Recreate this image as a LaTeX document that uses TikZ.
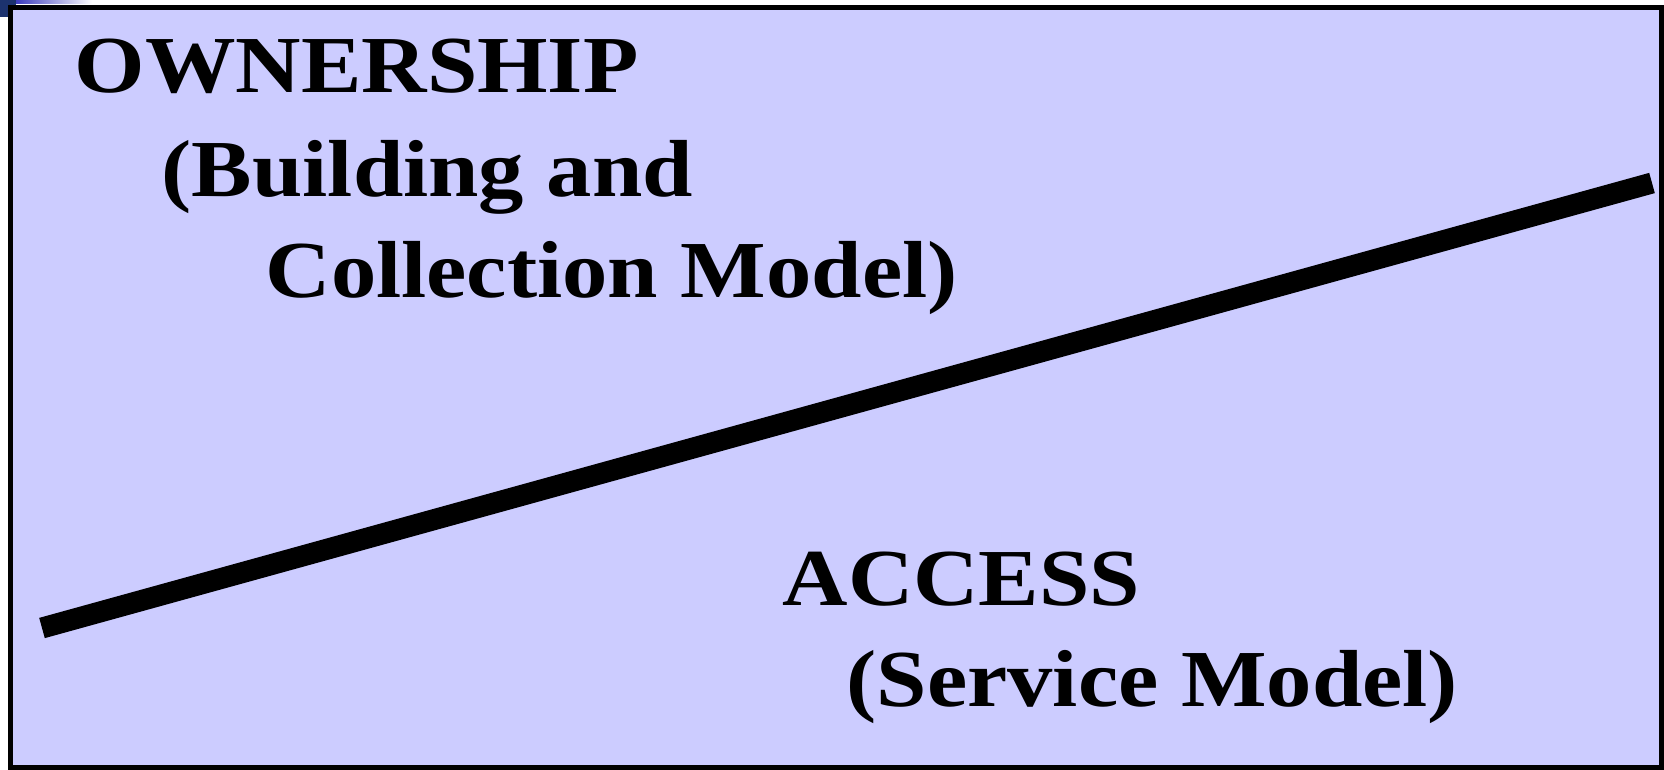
\documentclass[tikz,border=0pt]{standalone}
\usepackage{fontspec}
\setmainfont{Liberation Serif}[FakeStretch=1.12]
\usepackage{tikz}
\definecolor{boxfill}{RGB}{204,204,255}
\definecolor{slidenavy}{RGB}{28,50,110}
\definecolor{slideblue}{RGB}{60,60,190}

\begin{document}
\begin{tikzpicture}[x=0.01cm,y=-0.01cm,
  txt/.style={font=\fontsize{23}{27}\selectfont\bfseries, anchor=base west, inner sep=0pt}]
\useasboundingbox (0,0) rectangle (1664,770);

% Slide corner
\fill[slidenavy] (0,0) rectangle (16,17);
\shade[left color=slideblue, right color=white] (16,0) rectangle (92,4);

% Box
\draw[line width=0.05cm, fill=boxfill] (10.5,7.5) rectangle (1661.5,767.5);

% Dividing line
\coordinate (lo) at (42,628);
\coordinate (hi) at (1652,183);
\draw[line width=0.21cm] (lo) -- (hi);

% Upper left
\node[txt] (own) at (74,93) {OWNERSHIP};
\node[txt] (own2) at (161,196) {(Building and};
\node[txt] (own3) at (265,297) {Collection Model)};

% Lower right
\node[txt] (acc) at (782,605) {ACCESS};
\node[txt] (acc2) at (846,706) {(Service Model)};
\end{tikzpicture}
\end{document}
